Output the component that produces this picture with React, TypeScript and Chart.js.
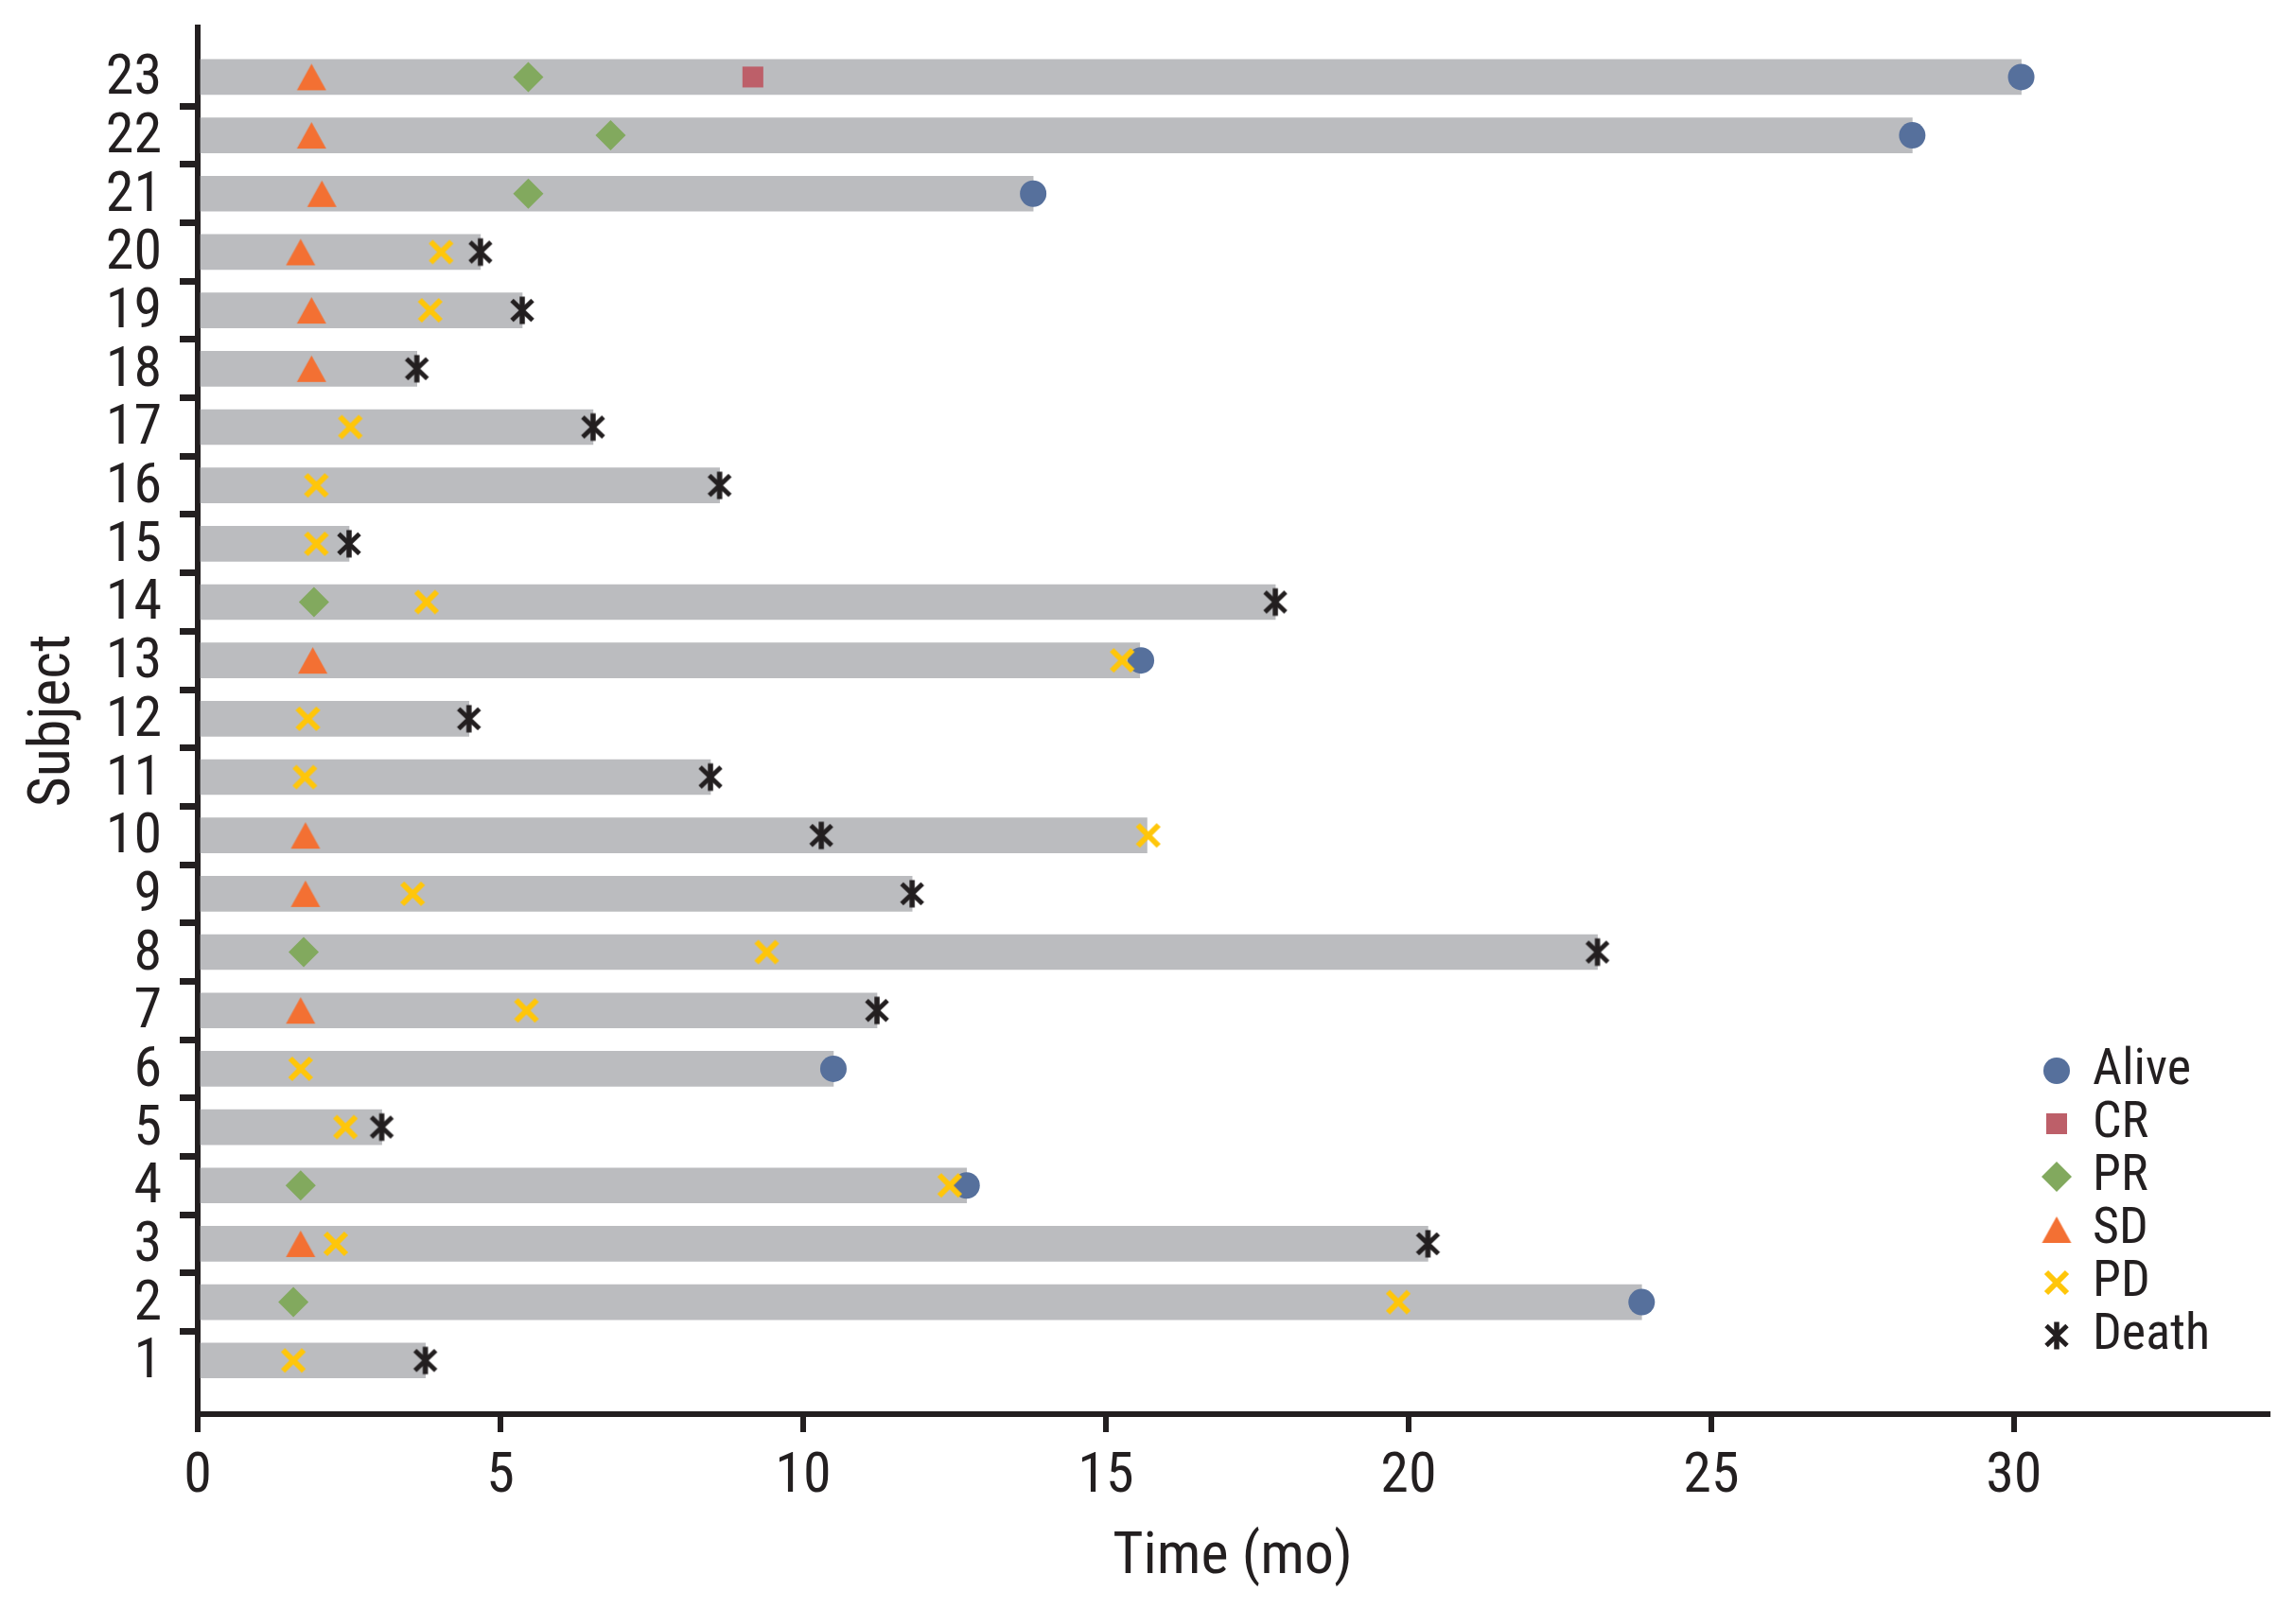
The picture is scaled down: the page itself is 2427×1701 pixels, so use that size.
import React, { useEffect, useRef } from 'react';
import { Chart, registerables } from 'chart.js';
import { drawPoint } from 'chart.js/helpers';

Chart.register(...registerables);

// ---------------- data ----------------
const subjects = [1, 2, 3, 4, 5, 6, 7, 8, 9, 10, 11, 12, 13, 14, 15, 16, 17, 18, 19, 20, 21, 22, 23];
const endTimes = [3.76, 23.85, 20.32, 12.7, 3.04, 10.5, 11.22, 23.12, 11.8, 15.68, 8.47, 4.48, 15.56, 17.8, 2.5, 8.62, 6.53, 3.62, 5.36, 4.67, 13.8, 28.32, 30.12];

const aliveSubjects = [2, 4, 6, 13, 21, 22, 23];
const aliveTimes = [23.85, 12.7, 10.5, 15.58, 13.8, 28.32, 30.12];

const crSubjects = [23];
const crTimes = [9.17];

const prSubjects = [2, 4, 8, 14, 21, 22, 23];
const prTimes = [1.58, 1.7, 1.75, 1.92, 5.46, 6.82, 5.46];

const sdSubjects = [3, 7, 9, 10, 13, 18, 19, 20, 21, 22, 23];
const sdTimes = [1.7, 1.7, 1.78, 1.78, 1.9, 1.88, 1.88, 1.7, 2.05, 1.88, 1.88];

const pdSubjects = [1, 2, 3, 4, 5, 6, 7, 8, 9, 10, 11, 12, 13, 14, 15, 16, 17, 19, 20];
const pdTimes = [1.58, 19.83, 2.28, 12.42, 2.44, 1.7, 5.43, 9.4, 3.55, 15.7, 1.77, 1.82, 15.27, 3.78, 1.96, 1.96, 2.52, 3.84, 4.02];

const deathSubjects = [1, 3, 5, 7, 8, 9, 10, 11, 12, 14, 15, 16, 17, 18, 19, 20];
const deathTimes = [3.76, 20.32, 3.04, 11.22, 23.12, 11.8, 10.3, 8.47, 4.48, 17.8, 2.5, 8.62, 6.53, 3.62, 5.36, 4.67];

const xTickValues = [0, 5, 10, 15, 20, 25, 30];
const xTitle = 'Time (mo)';
const yTitle = 'Subject';

// ---------------- style ----------------
const INK = '#231F20';
const BAR_COLOR = '#BBBCBF';
const C_ALIVE = '#56709C';
const C_CR = '#BD5F69';
const C_PR = '#82A95E';
const C_SD = '#F37033';
const C_PD = '#FFC60A';
const C_DEATH = '#231F20';
const FONT = "'Roboto Condensed', 'DejaVu Sans Condensed', sans-serif";

const W = 2427;
const H = 1701;

function makeCanvas(w: number, h: number, draw: (c: CanvasRenderingContext2D) => void) {
  const cv = document.createElement('canvas');
  cv.width = w;
  cv.height = h;
  const c = cv.getContext('2d') as CanvasRenderingContext2D;
  draw(c);
  return cv;
}

const pts = (ys: number[], xs: number[]) => ys.map((y, i) => ({ x: xs[i], y }));

const legendPlugin = {
  id: 'sideLegend',
  afterDraw(chart: any) {
    const ctx = chart.ctx as CanvasRenderingContext2D;
    const markerX = 2174;
    const textX = 2212;
    const top = 1132;
    const step = 56;
    ctx.save();
    let i = 0;
    chart.data.datasets.forEach((ds: any) => {
      if (ds.type === 'bar') return;
      const y = top + i * step;
      ctx.fillStyle = ds.backgroundColor;
      ctx.strokeStyle = ds.borderColor;
      drawPoint(ctx, { pointStyle: ds.pointStyle, radius: ds.pointRadius, rotation: 0, borderWidth: 0 } as any, markerX, y);
      ctx.fillStyle = INK;
      ctx.font = `54px ${FONT}`;
      ctx.textAlign = 'left';
      ctx.textBaseline = 'alphabetic';
      ctx.fillText(ds.label, textX, y + 14);
      i++;
    });
    ctx.restore();
  },
};

export default function App() {
  const ref = useRef<HTMLCanvasElement | null>(null);

  useEffect(() => {
    if (!ref.current) return;

    const triangle = makeCanvas(33, 30, (c) => {
      c.fillStyle = C_SD;
      c.beginPath();
      c.moveTo(16.5, 1);
      c.lineTo(32, 29);
      c.lineTo(1, 29);
      c.closePath();
      c.fill();
    });
    const cross = makeCanvas(32, 32, (c) => {
      c.strokeStyle = C_PD;
      c.lineWidth = 6;
      c.lineCap = 'butt';
      c.beginPath();
      c.moveTo(5, 5);
      c.lineTo(27, 27);
      c.moveTo(27, 5);
      c.lineTo(5, 27);
      c.stroke();
    });
    const asterisk = makeCanvas(32, 32, (c) => {
      c.strokeStyle = C_DEATH;
      c.lineCap = 'butt';
      c.lineWidth = 5.5;
      c.beginPath();
      c.moveTo(16, 1.5);
      c.lineTo(16, 30.5);
      c.stroke();
      c.lineWidth = 5;
      c.beginPath();
      c.moveTo(5, 5.5);
      c.lineTo(27, 26.5);
      c.moveTo(27, 5.5);
      c.lineTo(5, 26.5);
      c.stroke();
    });

    const scatterBase = { type: 'scatter', showLine: false, borderWidth: 0, pointBorderWidth: 0, pointHoverRadius: 0 };

    const chart = new Chart(ref.current, {
      type: 'scatter',
      data: {
        datasets: [
          {
            type: 'bar',
            label: 'Duration',
            indexAxis: 'y',
            data: subjects.map((s, i) => ({ x: endTimes[i], y: s })),
            backgroundColor: BAR_COLOR,
            borderWidth: 0,
            barThickness: 37,
            order: 10,
          },
          { ...scatterBase, label: 'Alive', data: pts(aliveSubjects, aliveTimes), pointStyle: 'circle', pointRadius: 14, backgroundColor: C_ALIVE, borderColor: C_ALIVE, order: 6 },
          { ...scatterBase, label: 'CR', data: pts(crSubjects, crTimes), pointStyle: 'rect', pointRadius: 15.6, backgroundColor: C_CR, borderColor: C_CR, order: 5 },
          { ...scatterBase, label: 'PR', data: pts(prSubjects, prTimes), pointStyle: 'rectRot', pointRadius: 16, backgroundColor: C_PR, borderColor: C_PR, order: 4 },
          { ...scatterBase, label: 'SD', data: pts(sdSubjects, sdTimes), pointStyle: triangle, pointRadius: 15, backgroundColor: C_SD, borderColor: C_SD, order: 3 },
          { ...scatterBase, label: 'PD', data: pts(pdSubjects, pdTimes), pointStyle: cross, pointRadius: 14, backgroundColor: C_PD, borderColor: C_PD, order: 2 },
          { ...scatterBase, label: 'Death', data: pts(deathSubjects, deathTimes), pointStyle: asterisk, pointRadius: 14, backgroundColor: C_DEATH, borderColor: C_DEATH, order: 1 },
        ] as any,
      },
      options: {
        responsive: false,
        maintainAspectRatio: false,
        devicePixelRatio: 1,
        animation: false,
        events: [],
        layout: { padding: { top: 29, right: 30, bottom: 0, left: 0 } },
        plugins: {
          legend: { display: false },
          tooltip: { enabled: false },
        },
        scales: {
          x: {
            type: 'linear',
            position: 'bottom',
            min: 0,
            max: 34.19,
            offset: false,
            z: 1,
            afterBuildTicks: (scale: any) => {
              scale.ticks = xTickValues.map((v) => ({ value: v }));
            },
            afterFit: (scale: any) => {
              scale.height = 206;
              scale.paddingLeft = 0;
              scale.paddingRight = 0;
            },
            border: { display: true, color: INK, width: 6 },
            grid: {
              display: true,
              offset: false,
              drawOnChartArea: false,
              drawTicks: true,
              tickLength: 19,
              tickWidth: 6,
              lineWidth: 6,
              tickColor: INK,
            },
            ticks: {
              color: INK,
              font: { family: FONT, size: 60 },
              padding: 12,
              autoSkip: false,
              maxRotation: 0,
              callback: (v: any) => String(v),
            },
            title: {
              display: true,
              text: xTitle,
              color: INK,
              font: { family: FONT, size: 62 },
              padding: { top: 0, bottom: 16 },
            },
          },
          y: {
            type: 'linear',
            position: 'left',
            min: 0.08,
            max: 23.85,
            offset: false,
            z: 1,
            afterBuildTicks: (scale: any) => {
              const t: any[] = [];
              subjects.forEach((s, i) => {
                t.push({ value: s });
                if (i < subjects.length - 1) t.push({ value: s + 0.5 });
              });
              scale.ticks = t;
            },
            afterFit: (scale: any) => {
              scale.width = 209;
              scale.paddingTop = 0;
              scale.paddingBottom = 0;
            },
            border: { display: true, color: INK, width: 6 },
            grid: {
              display: true,
              offset: false,
              drawOnChartArea: false,
              drawTicks: true,
              tickLength: 19,
              tickWidth: 7,
              lineWidth: 1,
              tickColor: (ctx: any) =>
                ctx.tick && Number.isInteger(ctx.tick.value) ? 'rgba(0,0,0,0)' : INK,
            },
            ticks: {
              color: INK,
              font: { family: FONT, size: 60 },
              padding: 19,
              labelOffset: 3,
              autoSkip: false,
              callback: (v: any) => (Number.isInteger(v) ? String(v) : ''),
            },
            title: {
              display: true,
              text: yTitle,
              color: INK,
              font: { family: FONT, size: 62 },
              padding: { top: 20, bottom: 0 },
            },
          },
        },
      } as any,
      plugins: [legendPlugin],
    });

    return () => {
      chart.destroy();
    };
  }, []);

  return (
    <div style={{ position: 'fixed', left: 0, top: 0, width: W, height: H, background: '#ffffff' }}>
      <canvas ref={ref} width={W} height={H} style={{ display: 'block', width: W, height: H }} />
    </div>
  );
}
